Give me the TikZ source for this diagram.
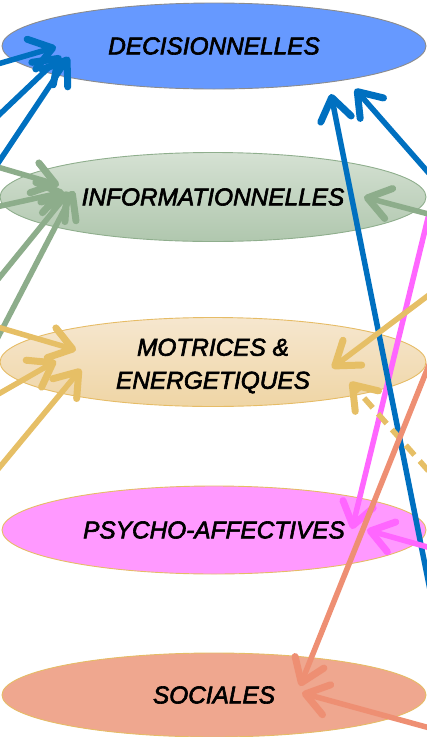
\documentclass[tikz,border=0pt]{standalone}
\usepackage{fontspec}
\setmainfont{Liberation Sans}
\newfontfamily\blobfont[FakeBold=2.5]{Liberation Sans}
\usetikzlibrary{shapes.geometric,arrows.meta}
\definecolor{decfill}{HTML}{6699FF}
\definecolor{decdraw}{HTML}{8C8C8C}
\definecolor{bluel}{HTML}{0070C0}
\definecolor{infotop}{HTML}{D5E1D3}
\definecolor{infobot}{HTML}{B0C7AE}
\definecolor{infodraw}{HTML}{8FAE8D}
\definecolor{greenl}{HTML}{8DAD8B}
\definecolor{mottop}{HTML}{F6E7CF}
\definecolor{motbot}{HTML}{EFD5A5}
\definecolor{goldd}{HTML}{E6BC66}
\definecolor{tanl}{HTML}{E6BF66}
\definecolor{psyfill}{HTML}{FF99FF}
\definecolor{magl}{HTML}{FF66FF}
\definecolor{socfill}{HTML}{EFA78F}
\definecolor{salml}{HTML}{EE8F73}
\begin{document}
\begin{tikzpicture}[x=1pt,y=-1pt,
  blobtext/.style={align=center, inner sep=0pt, font=\blobfont\fontsize{24.4}{33}\selectfont\itshape},
  blob/.style={ellipse, inner sep=0pt, minimum width=424pt, minimum height=86pt,
    line width=0.9pt, blobtext},
  arr/.style={line width=5.5pt, line cap=round,
    -{Straight Barb[length=22pt,width=31pt,line width=7pt,round]}},
  dasharr/.style={line width=5.5pt, line cap=butt, dash pattern=on 13pt off 8pt,
    -{Straight Barb[length=22pt,width=31pt,line width=7pt,round]}},
]
\useasboundingbox (0,0) rectangle (427,737);
\clip (0,0) rectangle (427,737);

% ellipses
\node[blob, fill=decfill, draw=decdraw] (dec) at (214,46) {DECISIONNELLES};
\node[blob, top color=infotop, bottom color=infobot, draw=infodraw, minimum width=426pt, minimum height=89pt] (info) at (213,197) {INFORMATIONNELLES};
\node[blob, top color=mottop, bottom color=motbot, draw=goldd, minimum width=426pt, minimum height=89pt] (mot) at (213,362) {};
\node[blobtext] (motlbl) at (213,366) {MOTRICES \&\\ENERGETIQUES};
\node[blob, fill=psyfill, draw=goldd, minimum height=88pt] (psy) at (214,530) {PSYCHO-AFFECTIVES};
\node[blob, fill=socfill, draw=goldd, minimum height=84pt] (soc) at (214,695) {SOCIALES};

% free ends (outside the visible frame)
\coordinate (b1s) at (-40,75);   \coordinate (b1t) at (56,47);
\coordinate (b2s) at (-40,152);  \coordinate (b2t) at (61,56);
\coordinate (b3s) at (-40,220);  \coordinate (b3t) at (69,57);
\coordinate (b4s) at (440,640);  \coordinate (b4t) at (331,94);
\coordinate (b5s) at (470,220);  \coordinate (b5t) at (355,89);

\coordinate (g1s) at (-40,156);  \coordinate (g1t) at (59,185);
\coordinate (g2s) at (-40,215);  \coordinate (g2t) at (64,192);
\coordinate (g3s) at (-40,326);  \coordinate (g3t) at (69,192);
\coordinate (g4s) at (-30,391);  \coordinate (g4t) at (74,191);
\coordinate (g5s) at (470,225);  \coordinate (g5t) at (364,197);

\coordinate (t1s) at (-40,316);  \coordinate (t1t) at (76,350);
\coordinate (t2s) at (-40,416);  \coordinate (t2t) at (56,361);
\coordinate (t3s) at (-40,515);  \coordinate (t3t) at (81,369);
\coordinate (t4s) at (470,264);  \coordinate (t4t) at (332,368);
\coordinate (t5s) at (470,518);  \coordinate (t5t) at (350,382);

\coordinate (m1s) at (437,181);  \coordinate (m1t) at (352,529);
\coordinate (m2s) at (470,559);  \coordinate (m2t) at (367,530);

\coordinate (s1s) at (445,325);  \coordinate (s1t) at (300,686);
\coordinate (s2s) at (470,739);  \coordinate (s2t) at (302,693);

% connectors
\draw[arr, bluel] (b1s) -- (b1t);
\draw[arr, bluel] (b2s) -- (b2t);
\draw[arr, bluel] (b3s) -- (b3t);

\draw[arr, greenl] (g1s) -- (g1t);
\draw[arr, greenl] (g2s) -- (g2t);
\draw[arr, greenl] (g3s) -- (g3t);
\draw[arr, greenl] (g4s) -- (g4t);

\draw[arr, tanl] (t1s) -- (t1t);
\draw[arr, tanl] (t2s) -- (t2t);
\draw[arr, tanl] (t3s) -- (t3t);

\draw[arr, magl] (m1s) -- (m1t);
\draw[arr, bluel] (b4s) -- (b4t);
\draw[arr, bluel] (b5s) -- (b5t);
\draw[arr, greenl] (g5s) -- (g5t);
\draw[arr, tanl] (t4s) -- (t4t);
\draw[dasharr, tanl] (t5s) -- (t5t);
\draw[arr, magl] (m2s) -- (m2t);
\draw[arr, salml] (s1s) -- (s1t);
\draw[arr, salml] (s2s) -- (s2t);
\end{tikzpicture}
\end{document}
